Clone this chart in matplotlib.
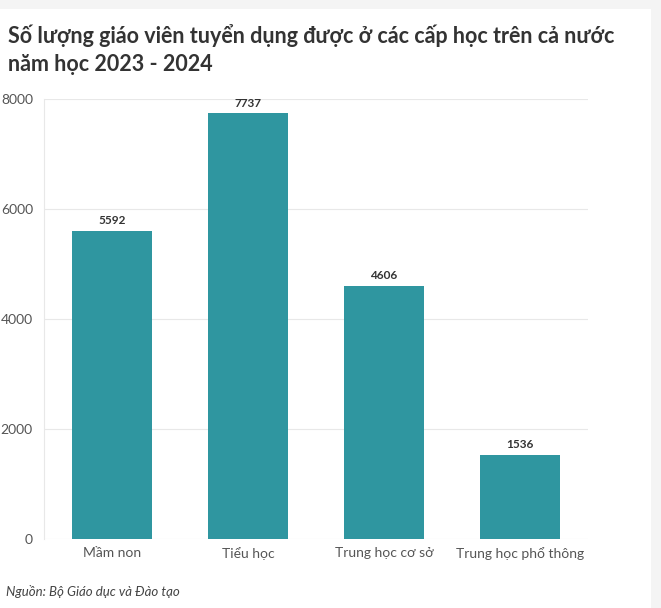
import numpy as np
import matplotlib.pyplot as plt
from matplotlib.patches import Rectangle

categories = ["Mầm non", "Tiểu học", "Trung học cơ sở", "Trung học phổ thông"]
values = [5592, 7737, 4606, 1536]
yticks = [0, 2000, 4000, 6000, 8000]

title = "Số lượng giáo viên tuyển dụng được ở các cấp học trên cả nước\nnăm học 2023 - 2024"
source = "Nguồn: Bộ Giáo dục và Đào tạo"

plt.rcParams['font.family'] = ['Lato', 'DejaVu Sans']

W, H = 661, 608
fig = plt.figure(figsize=(W / 100, H / 100), dpi=100)
fig.patch.set_facecolor("#f4f4f4")
# white card
fig.add_artist(Rectangle((0, 0), 651 / W, (H - 9) / H, transform=fig.transFigure,
                         facecolor="white", edgecolor="none", zorder=0))

ax = fig.add_axes([44 / W, (H - 539) / H, (588 - 44) / W, (539 - 99) / H])
ax.set_facecolor("none")

x = np.arange(len(categories))
ax.bar(x, values, width=0.59, color="#2f96a0", zorder=3)
for xi, v in zip(x, values):
    ax.text(xi, v + 90, str(v), ha="center", va="bottom", fontsize=8.5,
            fontweight="bold", color="#333333")

ax.set_xlim(-0.5, 3.5)
ax.set_ylim(0, 8000)
ax.set_yticks(yticks)
ax.set_xticks(x)
ax.set_xticklabels(categories)
ax.tick_params(axis="both", length=0, labelsize=10, labelcolor="#555555")
ax.tick_params(axis="x", pad=6)
ax.tick_params(axis="y", pad=8)
ax.grid(axis="y", color="#e8e8e8", linewidth=0.8, zorder=0)
for s in ["top", "right", "bottom"]:
    ax.spines[s].set_visible(False)
ax.spines["left"].set_color("#e8e8e8")
ax.spines["left"].set_linewidth(0.8)

fig.text(8 / W, 1 - 24 / H, title, ha="left", va="top", fontsize=15.5,
         fontweight="bold", color="#333333", linespacing=1.4)
fig.text(6 / W, 1 - 591 / H, source, ha="left", va="center", fontsize=9.5,
         fontstyle="italic", color="#444444")

fig.savefig("out.png", dpi=100)
